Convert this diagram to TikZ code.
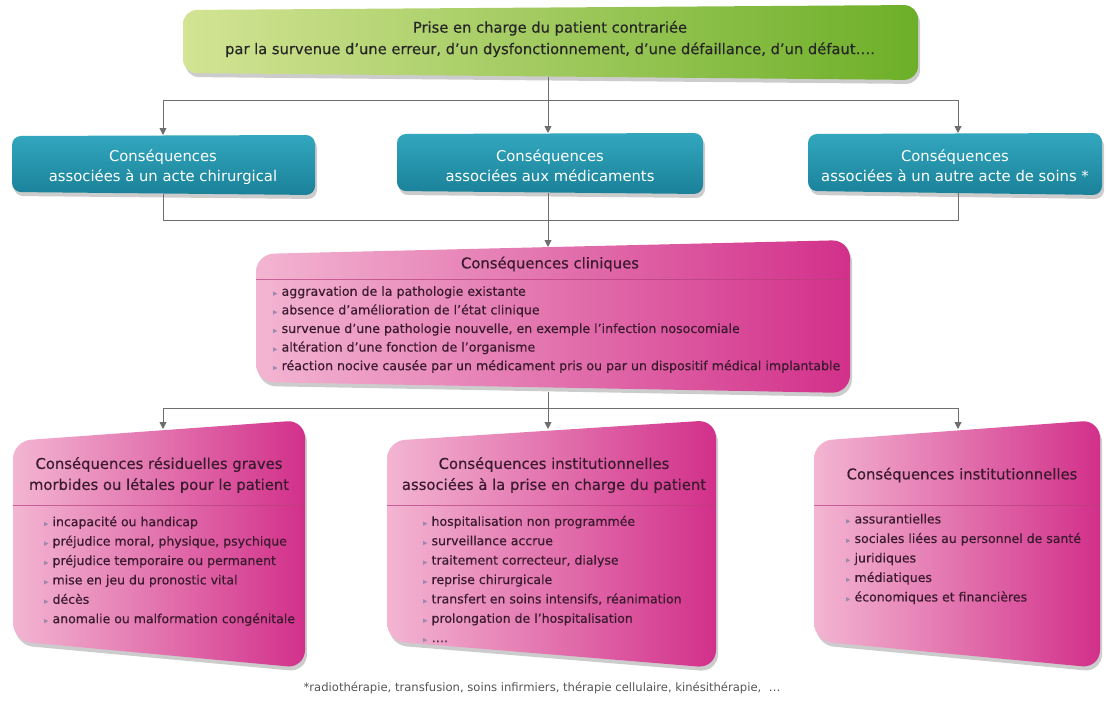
\documentclass[tikz,border=0pt]{standalone}
\usepackage{fontspec}
\setmainfont{DejaVu Sans}
\newfontfamily\heavyfont[FakeBold=0.35]{DejaVu Sans}
\usetikzlibrary{arrows.meta,shadows}
\definecolor{grL}{HTML}{D3E494}
\definecolor{grR}{HTML}{6DAF28}
\definecolor{tlT}{HTML}{32A7BE}
\definecolor{tlB}{HTML}{1A8199}
\definecolor{pkL}{HTML}{F3B5D2}
\definecolor{pkR}{HTML}{D2308A}
\definecolor{plum}{HTML}{3A1A2E}
\definecolor{bulc}{HTML}{9C8AAE}
\definecolor{sepc}{HTML}{B8407E}
\definecolor{linec}{HTML}{6E6E6E}
\definecolor{notec}{HTML}{555555}
\newcommand\bul{{\color{bulc}\fontsize{8}{8}\selectfont ▸}\hspace{0.35em}}
\tikzset{
  shd/.style={drop shadow={shadow xshift=2pt,shadow yshift=-4pt,opacity=0.2,fill=black}},
  greenbox/.style={shd,left color=grL,right color=grR,rounded corners=14pt},
  tealbox/.style={shd,top color=tlT,bottom color=tlB,rounded corners=9pt},
  pinkbox/.style={shd,left color=pkL,right color=pkR,rounded corners=18pt},
  sep/.style={draw=sepc,line width=0.6pt,opacity=0.7},
  greentext/.style={text=black!85,font=\heavyfont\fontsize{14.7}{21.5}\selectfont,align=center},
  tealtext/.style={text=white,font=\fontsize{14.8}{20}\selectfont,align=center},
  pinkhead/.style={text=plum,font=\heavyfont\fontsize{14.8}{21}\selectfont,align=center},
  itemlist/.style={anchor=west,text=plum,align=left,inner sep=0pt},
  conn/.style={draw=linec,line width=0.9pt},
  arr/.style={conn,-{Triangle[length=7pt,width=7pt]}},
}
\begin{document}
\begin{tikzpicture}[x=1pt,y=-1pt]
\useasboundingbox (0,0) rectangle (1108,701);
\fill[white] (0,0) rectangle (1108,701);

% ---- top green box
\path[greenbox] (183,10) -- (918,5) -- (918,80) -- (183,73) -- cycle;
\node[greentext] (gT) at (550,39) {Prise en charge du patient contrariée\\par la survenue d’une erreur, d’un dysfonctionnement, d’une défaillance, d’un défaut….};
\coordinate (gS) at (548,77);

% ---- teal boxes
\path[tealbox] (12,136) -- (315,135) -- (315,195) -- (12,192) -- cycle;
\path[tealbox] (397,134) -- (703,133) -- (703,194) -- (397,191) -- cycle;
\path[tealbox] (808,134) -- (1102,133) -- (1102,195) -- (808,191) -- cycle;
\node[tealtext] (t1) at (163,167) {Conséquences\\associées à un acte chirurgical};
\node[tealtext] (t2) at (550,166) {Conséquences\\associées aux médicaments};
\node[tealtext] (t3) at (955,166) {Conséquences\\associées à un autre acte de soins *};
\coordinate (t1N) at (163,135);
\coordinate (t2N) at (548,133);
\coordinate (t3N) at (958,133);
\coordinate (t1S) at (163,194);
\coordinate (t2S) at (548,193);
\coordinate (t3S) at (958,193);

% ---- clinical box
\path[pinkbox] (256,254) -- (850,240) -- (850,393) -- (256,382) -- cycle;
\draw[sep] (256,279) -- (850,279);
\node[pinkhead] (cH) at (550,264) {Conséquences cliniques};
\node[itemlist,font=\heavyfont\fontsize{12.6}{18.6}\selectfont] (cL) at (273,329.5) {%
\bul aggravation de la pathologie existante\\
\bul absence d’amélioration de l’état clinique\\
\bul survenue d’une pathologie nouvelle, en exemple l’infection nosocomiale\\
\bul altération d’une fonction de l’organisme\\
\bul réaction nocive causée par un médicament pris ou par un dispositif médical implantable};
\coordinate (cN) at (548,247);
\coordinate (cS) at (548,392);

% ---- bottom boxes
\path[pinkbox] (13,441) -- (305,420) -- (305,668) -- (13,641) -- cycle;
\path[pinkbox] (387,441) -- (716,420) -- (716,668) -- (387,641) -- cycle;
\path[pinkbox] (814,441) -- (1100,420) -- (1100,668) -- (814,641) -- cycle;
\draw[sep] (13,505) -- (305,505);
\draw[sep] (387,505) -- (716,505);
\draw[sep] (814,505) -- (1100,505);
\coordinate (b1N) at (163,429);
\coordinate (b2N) at (548,429);
\coordinate (b3N) at (958,429);

\node[pinkhead] (h1) at (159,475) {Conséquences résiduelles graves\\morbides ou létales pour le patient};
\node[pinkhead] (h2) at (554,475) {Conséquences institutionnelles\\associées à la prise en charge du patient};
\node[pinkhead] (h3) at (962,475) {Conséquences institutionnelles};

\node[itemlist,font=\heavyfont\fontsize{12.5}{19.4}\selectfont] (l1) at (44,571) {%
\bul incapacité ou handicap\\
\bul préjudice moral, physique, psychique\\
\bul préjudice temporaire ou permanent\\
\bul mise en jeu du pronostic vital\\
\bul décès\\
\bul anomalie ou malformation congénitale};
\node[itemlist,font=\heavyfont\fontsize{12.5}{19.4}\selectfont] (l2) at (423,579) {%
\bul hospitalisation non programmée\\
\bul surveillance accrue\\
\bul traitement correcteur, dialyse\\
\bul reprise chirurgicale\\
\bul transfert en soins intensifs, réanimation\\
\bul prolongation de l’hospitalisation\\
\bul ….};
\node[itemlist,font=\heavyfont\fontsize{12.5}{19.5}\selectfont] (l3) at (846,559) {%
\bul assurantielles\\
\bul sociales liées au personnel de santé\\
\bul juridiques\\
\bul médiatiques\\
\bul économiques et financières};

% ---- connectors
\coordinate (bus1) at (548,100);
\coordinate (bus2) at (548,220);
\coordinate (bus3) at (548,408);
\draw[conn] (gS) -- (bus1);
\draw[arr] (bus1) -| (t1N);
\draw[arr] (bus1) -- (t2N);
\draw[arr] (bus1) -| (t3N);
\draw[conn] (t1S) |- (bus2);
\draw[conn] (t3S) |- (bus2);
\draw[arr] (t2S) -- (cN);
\draw[conn] (cS) -- (bus3);
\draw[arr] (bus3) -| (b1N);
\draw[arr] (bus3) -- (b2N);
\draw[arr] (bus3) -| (b3N);

% ---- footnote
\node[text=notec,font=\fontsize{11.6}{13}\selectfont] (fn) at (542,688) {*radiothérapie, transfusion, soins infirmiers, thérapie cellulaire, kinésithérapie,\ \ …};
\end{tikzpicture}
\end{document}
